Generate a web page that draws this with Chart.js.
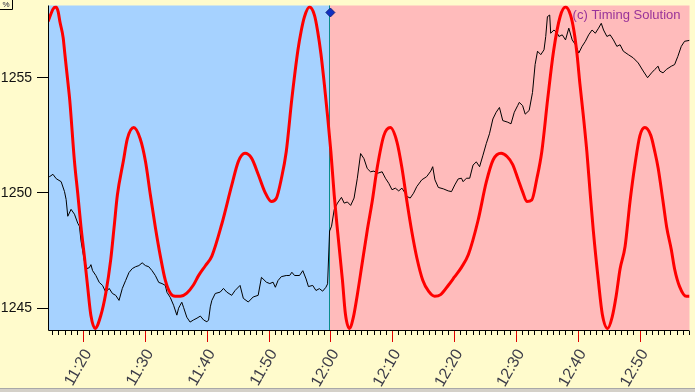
<!DOCTYPE html>
<html><head><meta charset="utf-8">
<script src="https://cdn.jsdelivr.net/npm/chart.js@4.4.1/dist/chart.umd.min.js"></script>
<style>
html,body{margin:0;padding:0;background:#FFFBCC;overflow:hidden}
#wrap{position:relative;width:695px;height:392px}
</style>
</head><body><div id="wrap"><canvas id="c" width="695" height="392"></canvas></div>
<script>
// ---- data (time = minutes after 11:00) ----
const priceTimes = [14.33,14.60,15.13,15.66,16.46,17.00,17.26,17.53,18.06,18.61,19.14,19.41,19.67,19.94,20.21,20.63,21.01,21.27,21.54,22.07,22.62,23.15,23.68,24.22,24.75,25.28,25.82,26.35,26.88,27.43,27.96,28.49,29.03,29.56,30.09,30.63,31.16,31.69,32.24,32.77,33.30,33.57,34.10,34.64,35.17,35.45,35.70,35.97,36.25,36.78,37.31,37.85,38.43,38.97,39.50,40.03,40.30,40.58,40.83,41.38,42.18,42.71,43.24,44.04,44.59,45.39,45.92,46.72,47.52,48.32,48.85,49.65,50.20,50.73,51.10,51.53,52.06,52.86,53.41,53.77,54.21,55.01,55.54,56.07,56.45,57.14,57.67,58.22,58.75,59.28,59.55,
59.87,60.19,60.62,61.15,61.79,62.23,62.75,63.28,63.83,64.36,64.89,65.43,65.96,66.49,67.04,67.57,68.37,68.90,69.44,69.97,70.50,71.05,71.57,72.10,72.38,72.91,73.45,73.98,74.78,75.58,76.23,76.55,76.91,77.46,78.26,79.06,79.59,80.12,80.67,81.20,81.47,82.00,82.53,83.07,83.60,84.13,84.68,85.21,85.73,86.28,86.81,87.34,87.88,88.69,89.21,89.74,90.29,90.55,91.09,91.51,92.15,92.69,93.11,93.50,94.03,94.55,94.83,95.10,95.47,95.63,96.16,96.70,96.96,97.50,98.03,98.56,99.11,99.64,100.17,100.71,101.24,101.77,102.32,102.85,103.37,103.81,104.18,104.72,105.25,105.78,106.33,106.85,107.38,108.19,108.99,109.79,110.59,111.30,111.94,112.47,113.00,113.27,113.80,114.34,115.14,115.67,116.20,116.75,117.28,118.08];
const priceValues = [1250.75,1250.71,1250.81,1250.62,1250.49,1250.06,1249.72,1248.99,1249.29,1249.08,1248.69,1248.56,1247.92,1247.49,1247.06,1246.72,1246.76,1246.89,1246.63,1246.42,1246.12,1245.99,1245.69,1245.86,1245.64,1245.56,1245.34,1245.86,1246.20,1246.55,1246.72,1246.80,1246.85,1246.97,1246.85,1246.80,1246.63,1246.42,1246.12,1246.07,1245.99,1245.69,1245.47,1245.13,1244.70,1245.00,1245.13,1245.26,1245.04,1244.61,1244.40,1244.49,1244.57,1244.66,1244.49,1244.41,1244.49,1245.06,1245.34,1245.64,1245.70,1245.86,1245.70,1245.56,1245.77,1245.99,1245.43,1245.27,1245.49,1245.56,1246.34,1246.13,1246.07,1246.13,1245.91,1246.20,1246.37,1246.42,1246.42,1246.56,1246.42,1246.42,1246.63,1246.27,1245.94,1245.99,1245.77,1245.85,1245.74,1245.91,1246.06,
1248.35,1248.56,1249.28,1249.56,1249.81,1249.56,1249.61,1249.46,1249.78,1250.64,1251.71,1251.49,1251.06,1250.92,1250.95,1250.85,1250.92,1250.64,1250.42,1250.14,1250.21,1250.09,1250.21,1249.99,1249.85,1249.78,1249.99,1250.28,1250.57,1250.71,1250.95,1251.14,1250.57,1250.24,1250.18,1250.09,1250.06,1250.35,1250.61,1250.64,1250.49,1250.64,1250.64,1251.21,1251.35,1251.14,1251.64,1252.14,1252.57,1253.21,1253.50,1253.71,1253.14,1253.07,1253.00,1253.50,1253.79,1253.93,1253.79,1253.42,1253.58,1254.36,1255.57,1256.15,1256.00,1256.21,1256.79,1257.65,1257.72,1256.93,1257.07,1256.93,1256.79,1256.86,1256.64,1257.15,1256.64,1256.43,1256.07,1256.36,1256.58,1256.86,1257.07,1256.93,1257.15,1257.36,1257.07,1256.79,1256.86,1256.64,1256.36,1256.43,1256.15,1256.00,1255.86,1255.64,1255.29,1255.00,1255.21,1255.36,1255.50,1255.29,1255.21,1255.36,1255.50,1255.57,1255.93,1256.36,1256.58,1256.62];

const cycleTimes = [14.33,14.53,15.18,15.61,15.98,16.25,16.78,17.05,17.33,17.58,17.85,18.61,19.14,19.67,20.21,20.74,21.27,21.94,22.87,23.68,24.48,25.02,25.55,26.51,27.16,28.20,29.24,30.09,30.89,31.69,32.50,33.30,34.10,34.90,35.70,36.78,37.85,38.70,39.78,40.83,42.44,44.04,45.12,46.19,47.25,48.32,49.40,50.46,51.26,52.06,52.86,53.77,54.74,55.27,55.81,56.61,57.42,57.94,58.47,59.02,59.55,60.08,60.62,61.15,61.95,62.43,63.08,63.72,64.36,65.16,65.96,66.76,67.57,68.64,69.70,70.77,71.57,72.38,73.18,73.98,74.94,75.90,76.87,77.83,79.11,80.07,81.20,82.32,83.87,85.21,86.33,87.61,88.57,89.49,90.34,91.09,91.78,92.58,93.38,94.19,95.15,96.11,97.15,98.03,98.84,99.40,99.88,100.36,100.92,101.48,102.04,102.52,103.33,103.97,104.85,105.57,106.21,106.85,107.66,108.46,109.26,110.06,110.86,111.83,112.47,113.00,113.80,114.39,115.14,115.67,116.48,117.55,118.08];
const cycleValues = [0.91,0.93,0.99,1.00,0.97,0.91,0.81,0.71,0.61,0.52,0.42,0.04,-0.16,-0.37,-0.55,-0.74,-0.92,-1.00,-0.92,-0.78,-0.57,-0.37,-0.17,0.04,0.18,0.25,0.18,0.04,-0.17,-0.37,-0.55,-0.70,-0.78,-0.80,-0.80,-0.78,-0.73,-0.67,-0.61,-0.55,-0.35,-0.11,0.04,0.09,0.06,-0.04,-0.15,-0.21,-0.19,-0.07,0.10,0.43,0.73,0.85,0.94,1.00,0.95,0.85,0.71,0.52,0.32,0.10,-0.17,-0.39,-0.70,-0.91,-1.00,-0.93,-0.79,-0.59,-0.39,-0.21,0.00,0.20,0.25,0.16,0.00,-0.21,-0.40,-0.56,-0.70,-0.77,-0.80,-0.79,-0.73,-0.68,-0.62,-0.54,-0.33,-0.09,0.05,0.09,0.07,0.02,-0.07,-0.15,-0.21,-0.20,-0.07,0.10,0.43,0.73,0.94,1.00,0.95,0.85,0.71,0.52,0.32,0.10,-0.17,-0.39,-0.70,-0.91,-1.00,-0.93,-0.80,-0.63,-0.49,-0.21,0.02,0.20,0.25,0.20,0.10,0.00,-0.21,-0.37,-0.51,-0.63,-0.74,-0.80,-0.80];

const markerTimes = [60];
const markerValues = [1257.83];

const yTickValues = [1245, 1250, 1255];
const xTickLabels = ['11:20','11:30','11:40','11:50','12:00','12:10','12:20','12:30','12:40','12:50'];
const splitLabel = '12:00';
const copyrightText = '(c) Timing Solution';

// ---- helpers ----
const toMin = s => { const [h, m] = s.split(':').map(Number); return (h - 11) * 60 + m; };
const toLabel = v => { const h = 11 + Math.floor(v / 60); const m = Math.round(v % 60); return h + ':' + String(m).padStart(2, '0'); };
const xTickValues = xTickLabels.map(toMin);
const splitMinute = toMin(splitLabel);
const pts = (xs, ys) => xs.map((x, i) => ({ x, y: ys[i] }));
const labelFont = "'Liberation Sans',Arial,sans-serif";

const decor = {
  id: 'decor',
  beforeDatasetsDraw(chart) {
    const { ctx, chartArea: a, scales: { x } } = chart;
    const xs = Math.round(x.getPixelForValue(splitMinute));
    ctx.save();
    ctx.fillStyle = '#A6D2FF';
    ctx.fillRect(a.left, a.top, xs - a.left, a.bottom - a.top);
    ctx.fillStyle = '#FFBBBB';
    ctx.fillRect(xs, a.top, a.right - xs, a.bottom - a.top);
    ctx.strokeStyle = '#0A8C8C';
    ctx.lineWidth = 1;
    ctx.beginPath(); ctx.moveTo(xs - 0.5, a.top); ctx.lineTo(xs - 0.5, a.bottom); ctx.stroke();
    ctx.restore();
  },
  afterDatasetsDraw(chart) {
    const { ctx, chartArea: a, scales: { x } } = chart;
    ctx.save();
    ctx.strokeStyle = '#000'; ctx.lineWidth = 1;
    ctx.beginPath();
    ctx.moveTo(a.left + 0.5, a.top); ctx.lineTo(a.left + 0.5, a.bottom + 0.5); ctx.lineTo(a.right, a.bottom + 0.5);
    ctx.stroke();
    for (let m = Math.ceil(x.min); m <= Math.floor(x.max); m++) {
      const px = Math.round(x.getPixelForValue(m)) + 0.5;
      const major = m % 10 === 0;
      ctx.strokeStyle = major ? '#E00000' : '#000';
      ctx.beginPath(); ctx.moveTo(px, a.bottom + 1); ctx.lineTo(px, a.bottom + (major ? 12 : 5)); ctx.stroke();
    }
    ctx.fillStyle = '#993399';
    ctx.font = "13px 'Liberation Sans', Arial, sans-serif";
    ctx.textAlign = 'right'; ctx.textBaseline = 'middle';
    ctx.fillText(copyrightText, a.right - 9, a.top + 10);
    ctx.restore();
  },
  afterDraw(chart) {
    const { ctx, width, height } = chart;
    ctx.save();
    ctx.fillStyle = '#D4D0C8';
    ctx.fillRect(0, height - 4, width, 4);
    ctx.fillStyle = '#A8A8A8';
    ctx.fillRect(0, height - 4, width, 1);
    ctx.fillStyle = '#FFFBCC';
    ctx.fillRect(0, 0, 12, 10);
    ctx.strokeStyle = '#000';
    ctx.beginPath(); ctx.moveTo(0, 9.5); ctx.lineTo(12.5, 9.5); ctx.lineTo(12.5, 0); ctx.stroke();
    ctx.fillStyle = '#223';
    ctx.font = "8px 'Liberation Sans', sans-serif";
    ctx.textAlign = 'center'; ctx.textBaseline = 'middle';
    ctx.fillText('%', 6, 5);
    ctx.restore();
  }
};

new Chart(document.getElementById('c'), {
  type: 'line',
  data: {
    datasets: [
      { data: pts(markerTimes, markerValues), showLine: false, pointStyle: 'rectRot', pointRadius: 4.5,
        pointBackgroundColor: '#1030C0', pointBorderColor: '#102080', pointBorderWidth: 1, yAxisID: 'y' },
      { data: pts(cycleTimes, cycleValues), borderColor: '#FF0000', borderWidth: 3, pointRadius: 0,
        cubicInterpolationMode: 'monotone', yAxisID: 'y2', clip: 0 },
      { data: pts(priceTimes, priceValues), borderColor: '#000000', borderWidth: 1, pointRadius: 0,
        tension: 0, yAxisID: 'y' }
    ]
  },
  options: {
    responsive: false, animation: false, devicePixelRatio: 1,
    layout: { padding: { top: 2, right: 0, left: 0, bottom: 0 } },
    plugins: { legend: { display: false }, tooltip: { enabled: false } },
    scales: {
      x: {
        type: 'linear', position: 'bottom', min: 14.33, max: 118.08,
        afterBuildTicks: s => { s.ticks = xTickValues.map(v => ({ value: v })); },
        afterFit: s => { s.height = 62; s.paddingLeft = 0; s.paddingRight = 0; },
        grid: { display: false, drawTicks: false },
        border: { display: false },
        ticks: { autoSkip: false, minRotation: 60, maxRotation: 60, padding: 16, labelOffset: 5,
          color: '#3C3C48', font: { size: 16, family: labelFont },
          callback: v => toLabel(v) }
      },
      y: {
        position: 'left', min: 1244.056, max: 1258.133,
        afterBuildTicks: s => { s.ticks = yTickValues.map(v => ({ value: v })); },
        afterFit: s => { s.width = 48; s.paddingTop = 0; s.paddingBottom = 0; },
        grid: { drawOnChartArea: false, drawTicks: true, tickLength: 11, tickColor: '#000', tickWidth: 1 },
        border: { display: false },
        ticks: { padding: 5, color: '#111', font: { size: 14, family: labelFont },
          callback: v => String(v) }
      },
      y2: { display: false, min: -1.01, max: 1.01 }
    }
  },
  plugins: [decor]
});
</script>
</body></html>
